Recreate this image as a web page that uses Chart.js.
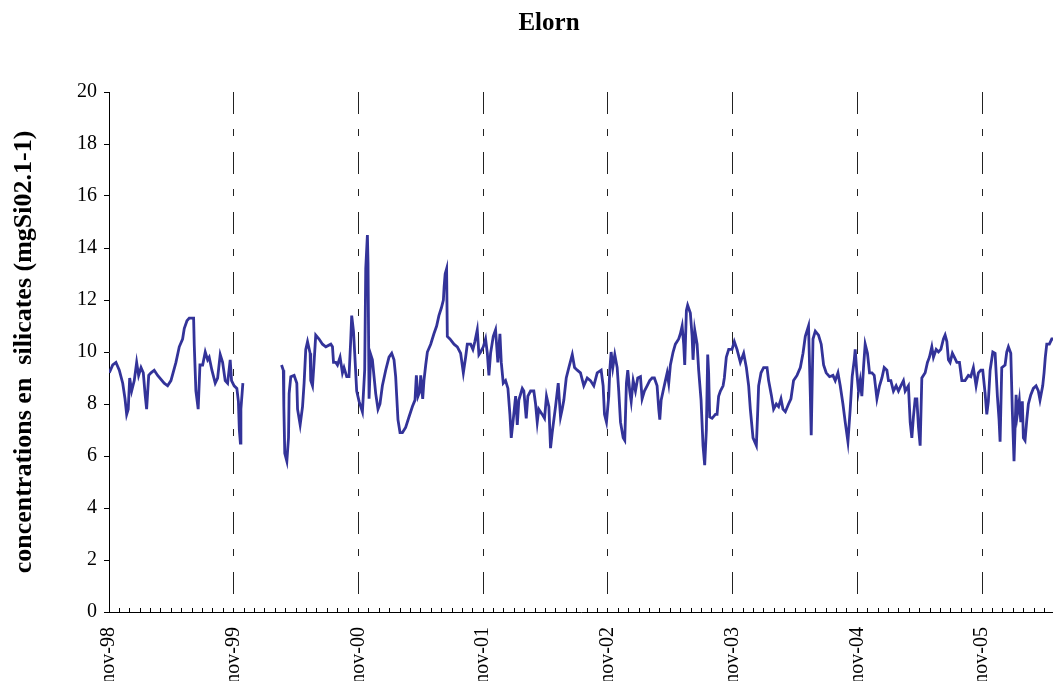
<!DOCTYPE html>
<html>
<head>
<meta charset="utf-8">
<title>Elorn</title>
<script src="https://cdn.jsdelivr.net/npm/chart.js@4"></script>
<style>
  html, body { margin: 0; padding: 0; background: #fff; overflow: hidden; }
  #wrap { position: relative; width: 1053px; height: 700px; }
</style>
</head>
<body>
<div id="wrap"><canvas id="myChart"></canvas></div>
<script>
const chartTitle = 'Elorn';
const yTitle = 'concentrations en  silicates (mgSi02.1-1)';
const yearLabels = ['nov-98', 'nov-99', 'nov-00', 'nov-01', 'nov-02', 'nov-03', 'nov-04', 'nov-05'];

// months since november 1998 (sampling dates) and silicate concentrations (mg/l)
const months = [
  0.03, 0.36, 0.67, 0.99, 1.32, 1.54, 1.70, 1.85, 1.99, 2.18,
  2.43, 2.66, 2.85, 3.08, 3.30, 3.49, 3.62, 3.82, 4.04, 4.35,
  4.68, 5.31, 5.64, 5.96, 6.44, 6.76, 7.08, 7.24, 7.50, 7.72,
  8.14, 8.20, 8.36, 8.58, 8.75, 9.01, 9.26, 9.49, 9.64, 9.90,
  10.22, 10.45, 10.70, 10.93, 11.18, 11.41, 11.66, 11.79, 12.04, 12.30,
  12.45, 12.54, 12.64, 12.69, 12.88,
  14.5,
  16.60, 16.77, 16.82, 16.91, 17.11, 17.27, 17.33, 17.49, 17.81, 18.07,
  18.14, 18.39, 18.62, 18.77, 18.93, 19.10, 19.35, 19.41, 19.58, 19.73,
  19.89, 20.21, 20.54, 20.86, 21.34, 21.50, 21.60, 21.82, 21.98, 22.23,
  22.46, 22.61, 22.87, 23.09, 23.26, 23.35, 23.52, 23.64, 23.83, 24.06,
  24.38, 24.60, 24.70, 24.86, 24.92, 25.02, 25.18, 25.34, 25.50, 25.66,
  25.88, 26.07, 26.30, 26.62, 26.94, 27.20, 27.42, 27.58, 27.68, 27.80,
  28.00, 28.23, 28.54, 28.86, 29.19, 29.44, 29.57, 29.73, 29.92, 29.99,
  30.18, 30.30, 30.47, 30.63, 30.95, 31.26, 31.52, 31.74, 31.98, 32.17,
  32.24, 32.34, 32.48, 32.55, 32.80, 33.19, 33.51, 33.83, 34.09, 34.31,
  34.47, 34.79, 35.01, 35.20, 35.43, 35.59, 35.75, 36.01, 36.23, 36.40,
  36.55, 36.71, 36.97, 37.19, 37.41, 37.61, 37.74, 37.93, 38.15, 38.38,
  38.57, 38.70, 38.89, 39.12, 39.28, 39.43, 39.76, 39.91, 40.14, 40.30,
  40.56, 40.87, 41.04, 41.20, 41.35, 41.68, 41.90, 42.09, 42.32, 42.48,
  42.64, 42.96, 43.22, 43.44, 43.60, 43.76, 43.99, 44.24, 44.57, 44.79,
  45.05, 45.36, 45.68, 46.01, 46.32, 46.64, 46.97, 47.35, 47.54, 47.67,
  47.86, 48.08, 48.18, 48.31, 48.47, 48.66, 48.89, 49.04, 49.21, 49.47,
  49.62, 49.78, 49.91, 50.10, 50.24, 50.43, 50.65, 50.87, 51.13, 51.29,
  51.51, 51.77, 52.02, 52.25, 52.47, 52.73, 52.89, 52.99, 53.12, 53.31,
  53.53, 53.70, 53.85, 54.01, 54.27, 54.49, 54.81, 54.97, 55.14, 55.29,
  55.39, 55.55, 55.67, 55.93, 56.10, 56.19, 56.35, 56.58, 56.73, 56.96,
  57.15, 57.31, 57.47, 57.60, 57.69, 57.79, 58.02, 58.34, 58.50, 58.65,
  58.82, 59.08, 59.20, 59.39, 59.62, 59.94, 60.16, 60.42, 60.74, 61.06,
  61.32, 61.54, 61.70, 61.96, 62.28, 62.40, 62.50, 62.73, 62.98, 63.31,
  63.46, 63.72, 63.94, 64.20, 64.42, 64.65, 64.84, 65.07, 65.38, 65.61,
  65.86, 66.19, 66.51, 66.77, 66.99, 67.30, 67.47, 67.56, 67.73, 67.95,
  68.26, 68.52, 68.75, 69.00, 69.32, 69.65, 69.87, 70.13, 70.35, 70.61,
  70.83, 71.09, 71.31, 71.50, 71.70, 71.79, 71.95, 72.11, 72.27, 72.43,
  72.59, 72.75, 72.97, 73.17, 73.40, 73.62, 73.88, 74.13, 74.36, 74.58,
  74.84, 74.99, 75.22, 75.47, 75.73, 75.95, 76.18, 76.43, 76.60, 76.91,
  77.08, 77.24, 77.39, 77.56, 77.72, 77.88, 78.04, 78.20, 78.52, 78.74,
  78.93, 79.16, 79.32, 79.58, 79.80, 80.03, 80.28, 80.44, 80.61, 80.76,
  80.92, 81.14, 81.33, 81.57, 81.82, 82.05, 82.36, 82.68, 82.91, 83.16,
  83.42, 83.64, 83.87, 84.06, 84.29, 84.45, 84.60, 84.77, 85.03, 85.25,
  85.47, 85.63, 85.73, 85.89, 86.21, 86.37, 86.53, 86.76, 86.91, 87.07,
  87.27, 87.39, 87.58, 87.72, 87.87, 87.97, 88.13, 88.30, 88.45, 88.68,
  88.93, 89.19, 89.41, 89.57, 89.83, 89.96, 90.08, 90.22, 90.47, 90.70,
  90.85
];

const silicates = [
  9.2, 9.5, 9.6, 9.3, 8.8, 8.2, 7.6, 7.8, 9.0, 8.5,
  8.9, 9.6, 9.1, 9.4, 9.2, 8.3, 7.8, 9.1, 9.2, 9.3,
  9.1, 8.8, 8.7, 8.9, 9.6, 10.2, 10.5, 10.9, 11.2, 11.3,
  11.3, 10.3, 8.5, 7.8, 9.5, 9.5, 10.0, 9.7, 9.8, 9.3,
  8.8, 9.0, 9.9, 9.6, 8.9, 8.8, 9.7, 8.9, 8.7, 8.6,
  8.1, 7.0, 6.5, 7.8, 8.8,
  null,
  9.5, 9.3, 7.9, 6.1, 5.8, 6.7, 8.4, 9.05, 9.1, 8.8,
  7.8, 7.2, 7.9, 8.8, 10.1, 10.4, 9.95, 8.9, 8.7, 9.6,
  10.65, 10.5, 10.3, 10.2, 10.3, 10.2, 9.6, 9.6, 9.5, 9.8,
  9.2, 9.4, 9.05, 9.05, 10.5, 11.4, 10.8, 9.95, 8.5, 8.1,
  7.7, 9.3, 13.2, 14.5, 13.4, 8.2, 9.9, 9.7, 9.05, 8.4,
  7.8, 8.0, 8.7, 9.3, 9.8, 9.95, 9.7, 9.05, 8.3, 7.4,
  6.9, 6.9, 7.1, 7.5, 7.9, 8.15, 9.1, 8.3, 8.5, 9.1,
  8.2, 8.9, 9.5, 10.0, 10.3, 10.7, 11.0, 11.4, 11.7, 12.0,
  12.5, 13.0, 13.2, 10.6, 10.5, 10.3, 10.2, 9.95, 9.2, 9.8,
  10.3, 10.3, 10.1, 10.4, 10.85, 9.9, 10.0, 10.2, 10.5, 9.95,
  9.1, 9.95, 10.6, 10.85, 9.6, 10.7, 9.6, 8.8, 8.9, 8.6,
  7.6, 6.7, 7.4, 8.3, 7.2, 8.15, 8.6, 8.5, 7.45, 8.3,
  8.5, 8.5, 8.0, 7.3, 7.8, 7.6, 7.45, 8.3, 7.9, 6.3,
  6.9, 7.9, 8.8, 7.5, 7.8, 8.15, 9.0, 9.4, 9.9, 9.4,
  9.3, 9.2, 8.7, 9.0, 8.9, 8.7, 9.2, 9.3, 8.7, 7.6,
  7.3, 8.3, 9.3, 10.0, 9.4, 9.9, 9.4, 8.5, 7.3, 6.7,
  6.6, 8.8, 9.3, 8.5, 8.1, 8.9, 8.5, 9.0, 9.05, 8.2,
  8.5, 8.7, 8.9, 9.0, 9.0, 8.7, 7.8, 7.4, 8.15, 8.5,
  8.9, 9.2, 8.8, 9.5, 10.0, 10.3, 10.5, 10.7, 11.0, 10.3,
  9.5, 11.6, 11.8, 11.5, 10.6, 9.7, 10.85, 10.3, 9.3, 8.15,
  6.4, 5.65, 7.0, 9.9, 9.2, 7.5, 7.45, 7.6, 7.6, 8.3,
  8.5, 8.7, 9.0, 9.8, 10.1, 10.1, 10.4, 10.1, 9.6, 9.95,
  9.4, 8.7, 7.8, 6.7, 6.4, 7.6, 8.7, 9.2, 9.4, 9.4,
  8.9, 8.35, 7.8, 8.0, 7.9, 8.2, 7.8, 7.7, 8.0, 8.2,
  8.9, 9.1, 9.4, 9.95, 10.6, 11.0, 8.4, 6.8, 10.5, 10.8,
  10.65, 10.3, 9.5, 9.2, 9.05, 9.1, 8.9, 9.2, 8.7, 8.0,
  7.3, 6.55, 7.8, 9.05, 9.7, 10.1, 9.2, 8.5, 8.9, 8.3,
  9.4, 10.3, 9.95, 9.2, 9.2, 9.1, 8.2, 8.7, 9.0, 9.4,
  9.3, 8.9, 8.9, 8.5, 8.7, 8.5, 8.7, 8.9, 8.5, 8.7,
  7.3, 6.7, 7.5, 8.2, 8.2, 7.1, 6.4, 9.0, 9.2, 9.6,
  9.8, 10.2, 9.8, 10.1, 10.0, 10.1, 10.5, 10.65, 10.4, 9.7,
  9.6, 9.95, 9.8, 9.6, 9.6, 8.9, 8.9, 9.1, 9.05, 9.4,
  8.7, 9.2, 9.3, 9.3, 8.4, 7.6, 8.1, 9.3, 10.0, 9.95,
  8.3, 7.4, 6.55, 9.4, 9.5, 10.0, 10.2, 9.95, 7.7, 5.8,
  8.35, 7.6, 8.15, 7.3, 8.1, 6.7, 6.6, 7.4, 8.0, 8.35,
  8.6, 8.7, 8.5, 8.15, 8.7, 9.2, 9.8, 10.3, 10.3, 10.5,
  10.5
];

const yTicks = [0, 2, 4, 6, 8, 10, 12, 14, 16, 18, 20];

const serif = '"Liberation Serif", "Times New Roman", serif';

// one tick per month, labels only every november
const monthTicks = Array.from({ length: 91 }, (_, i) => i);

const titlePlugin = {
  id: 'elornTitle',
  afterDraw(chart) {
    const c = chart.ctx;
    c.save();
    c.font = 'bold 25px ' + serif;
    c.fillStyle = '#000';
    c.textAlign = 'center';
    c.textBaseline = 'alphabetic';
    c.fillText(chartTitle, 549, 30);
    c.restore();
  }
};

const ctx = document.querySelector('#myChart').getContext('2d');

const data = {
  datasets: [{
    label: 'Elorn',
    data: months.map((m, i) => ({ x: m, y: silicates[i] })),
    borderColor: '#333399',
    borderWidth: 2.8,
    pointRadius: 0,
    tension: 0,
    spanGaps: false,
    fill: false
  }]
};

const config = {
  type: 'line',
  data: data,
  plugins: [titlePlugin],
  options: {
    animation: false,
    responsive: true,
    maintainAspectRatio: false,
    layout: { padding: { top: 92, right: 0, left: 0, bottom: 0 } },
    plugins: {
      legend: { display: false },
      tooltip: { enabled: false }
    },
    scales: {
      x: {
        type: 'linear',
        min: 0,
        max: 90.82,
        afterBuildTicks: (axis) => {
          axis.ticks = monthTicks.map(v => ({ value: v }));
        },
        afterFit: (axis) => {
          axis.height = 88;
          axis.paddingLeft = 0;
          axis.paddingRight = 0;
        },
        ticks: {
          autoSkip: false,
          minRotation: 90,
          maxRotation: 90,
          padding: 19,
          color: '#000',
          font: { family: serif, size: 20 },
          callback: (value) => value % 12 === 0 ? yearLabels[value / 12] : ''
        },
        grid: {
          color: (c) => (c.tick && c.tick.value > 0 && c.tick.value % 12 === 0) ? '#222' : 'rgba(0,0,0,0)',
          lineWidth: 1,
          drawTicks: true,
          tickLength: -4,
          tickColor: '#000',
          tickWidth: 1
        },
        border: { display: true, color: '#000', width: 1, dash: [22, 15, 7, 16] }
      },
      y: {
        min: 0,
        max: 20,
        afterBuildTicks: (axis) => {
          axis.ticks = yTicks.map(v => ({ value: v }));
        },
        afterFit: (axis) => { axis.width = 109; },
        ticks: {
          padding: 7,
          color: '#000',
          font: { family: serif, size: 20 }
        },
        grid: {
          drawOnChartArea: false,
          drawTicks: true,
          tickLength: 5,
          tickColor: '#000'
        },
        border: { display: true, color: '#000', width: 1 },
        title: {
          display: true,
          text: yTitle,
          color: '#000',
          font: { family: serif, size: 26, weight: 'bold' },
          padding: { top: 9, bottom: 0 }
        }
      }
    }
  }
};

const myChart = new Chart(ctx, config);
</script>
</body>
</html>
